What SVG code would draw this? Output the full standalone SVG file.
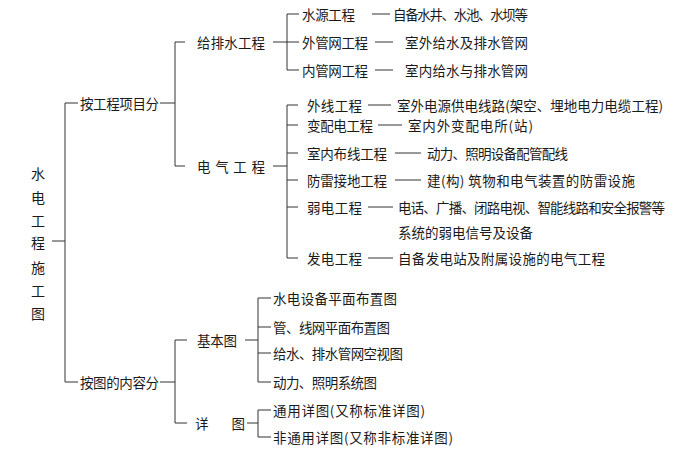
<svg xmlns="http://www.w3.org/2000/svg" width="685" height="453" viewBox="0 0 685 453">
<style>
text{font-family:"Noto Sans CJK SC","Noto Sans CJK JP",sans-serif;font-size:13.5px;fill:#1a1a1a;dominant-baseline:central}
.root{font-size:14px;text-anchor:middle}
#connectors line{stroke:#333;stroke-width:1;fill:none}
</style>
<rect width="685" height="453" fill="#fff"/>
<g id="connectors">
<line x1="52" y1="241" x2="65" y2="241"/>
<line x1="65" y1="103" x2="65" y2="382"/>
<line x1="65" y1="103" x2="78" y2="103"/>
<line x1="65" y1="382" x2="78" y2="382"/>
<line x1="160" y1="103" x2="175" y2="103"/>
<line x1="175" y1="42" x2="175" y2="166"/>
<line x1="175" y1="42" x2="185" y2="42"/>
<line x1="175" y1="166" x2="185" y2="166"/>
<line x1="273" y1="42" x2="287" y2="42"/>
<line x1="287" y1="14" x2="287" y2="70"/>
<line x1="287" y1="14" x2="299" y2="14"/>
<line x1="287" y1="42" x2="299" y2="42"/>
<line x1="287" y1="70" x2="299" y2="70"/>
<line x1="273" y1="166" x2="287" y2="166"/>
<line x1="287" y1="105" x2="287" y2="258"/>
<line x1="287" y1="105" x2="298" y2="105"/>
<line x1="287" y1="125" x2="298" y2="125"/>
<line x1="287" y1="153" x2="298" y2="153"/>
<line x1="287" y1="180" x2="298" y2="180"/>
<line x1="287" y1="207" x2="298" y2="207"/>
<line x1="287" y1="258" x2="298" y2="258"/>
<line x1="160" y1="382" x2="175" y2="382"/>
<line x1="175" y1="340" x2="175" y2="423"/>
<line x1="175" y1="340" x2="187" y2="340"/>
<line x1="175" y1="423" x2="187" y2="423"/>
<line x1="245" y1="340" x2="258" y2="340"/>
<line x1="258" y1="298" x2="258" y2="382"/>
<line x1="258" y1="298" x2="271" y2="298"/>
<line x1="258" y1="327" x2="271" y2="327"/>
<line x1="258" y1="353" x2="271" y2="353"/>
<line x1="258" y1="382" x2="271" y2="382"/>
<line x1="247" y1="423" x2="258" y2="423"/>
<line x1="258" y1="410" x2="258" y2="437"/>
<line x1="258" y1="410" x2="271" y2="410"/>
<line x1="258" y1="437" x2="271" y2="437"/>
<line x1="372" y1="14" x2="390" y2="14"/>
<line x1="375" y1="42" x2="393" y2="42"/>
<line x1="375" y1="70" x2="393" y2="70"/>
<line x1="368" y1="105" x2="391" y2="105"/>
<line x1="378" y1="125" x2="402" y2="125"/>
<line x1="395" y1="153" x2="421" y2="153"/>
<line x1="395" y1="180" x2="421" y2="180"/>
<line x1="368" y1="207" x2="393" y2="207"/>
<line x1="368" y1="258" x2="393" y2="258"/>
</g>
<g id="root">
<text class="root"><tspan x="38" y="173">水</tspan><tspan x="38" y="197">电</tspan><tspan x="38" y="220">工</tspan><tspan x="38" y="242">程</tspan><tspan x="38" y="267">施</tspan><tspan x="38" y="290">工</tspan><tspan x="38" y="313">图</tspan></text>
</g>
<g id="by-project"><text x="80" y="103" textLength="79" lengthAdjust="spacing">按工程项目分</text></g>
<g id="by-content"><text x="80" y="382" textLength="79" lengthAdjust="spacing">按图的内容分</text></g>
<g id="water"><text x="197" y="42" textLength="68" lengthAdjust="spacing">给排水工程</text></g>
<g id="electric"><text x="197" y="166" textLength="68" lengthAdjust="spacing">电 气 工 程</text></g>
<g id="basic"><text x="197" y="340" textLength="40" lengthAdjust="spacing">基本图</text></g>
<g id="detail"><text x="195" y="423" textLength="50" lengthAdjust="spacing">详 图</text></g>
<g id="water-source">
<text x="302" y="14" textLength="53" lengthAdjust="spacing">水源工程</text>
<text x="393" y="14" textLength="135" lengthAdjust="spacing">自备水井、水池、水坝等</text>
</g>
<g id="outer-pipe">
<text x="302" y="42" textLength="66" lengthAdjust="spacing">外管网工程</text>
<text x="405" y="42" textLength="123" lengthAdjust="spacing">室外给水及排水管网</text>
</g>
<g id="inner-pipe">
<text x="302" y="70" textLength="66" lengthAdjust="spacing">内管网工程</text>
<text x="405" y="70" textLength="123" lengthAdjust="spacing">室内给水与排水管网</text>
</g>
<g id="outer-line">
<text x="307" y="105" textLength="55" lengthAdjust="spacing">外线工程</text>
<text x="397" y="105" textLength="266" lengthAdjust="spacing">室外电源供电线路(架空、埋地电力电缆工程)</text>
</g>
<g id="substation">
<text x="307" y="125" textLength="66" lengthAdjust="spacing">变配电工程</text>
<text x="408" y="125" textLength="125" lengthAdjust="spacing">室内外变配电所(站)</text>
</g>
<g id="indoor-wiring">
<text x="307" y="153" textLength="80" lengthAdjust="spacing">室内布线工程</text>
<text x="427" y="153" textLength="141" lengthAdjust="spacing">动力、照明设备配管配线</text>
</g>
<g id="lightning">
<text x="307" y="180" textLength="80" lengthAdjust="spacing">防雷接地工程</text>
<text x="427" y="180" textLength="208" lengthAdjust="spacing">建(构) 筑物和电气装置的防雷设施</text>
</g>
<g id="weak-current">
<text x="307" y="207" textLength="55" lengthAdjust="spacing">弱电工程</text>
<text x="398" y="207" textLength="267" lengthAdjust="spacing">电话、广播、闭路电视、智能线路和安全报警等</text>
<text x="398" y="232" textLength="135" lengthAdjust="spacing">系统的弱电信号及设备</text>
</g>
<g id="generation">
<text x="307" y="258" textLength="55" lengthAdjust="spacing">发电工程</text>
<text x="398" y="258" textLength="207" lengthAdjust="spacing">自备发电站及附属设施的电气工程</text>
</g>
<g id="layout-plan"><text x="273" y="298" textLength="124" lengthAdjust="spacing">水电设备平面布置图</text></g>
<g id="network-plan"><text x="273" y="327" textLength="117" lengthAdjust="spacing">管、线网平面布置图</text></g>
<g id="pipe-view"><text x="273" y="353" textLength="130" lengthAdjust="spacing">给水、排水管网空视图</text></g>
<g id="system-diagram"><text x="273" y="382" textLength="104" lengthAdjust="spacing">动力、照明系统图</text></g>
<g id="standard-detail"><text x="273" y="410" textLength="152" lengthAdjust="spacing">通用详图(又称标准详图)</text></g>
<g id="nonstandard-detail"><text x="273" y="437" textLength="180" lengthAdjust="spacing">非通用详图(又称非标准详图)</text></g>
</svg>
